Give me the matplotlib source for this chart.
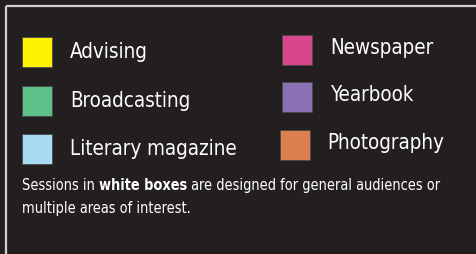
import matplotlib
matplotlib.use("Agg")
import matplotlib.pyplot as plt
from matplotlib.patches import Rectangle
from matplotlib import font_manager

categories_left = ["Advising", "Broadcasting", "Literary magazine"]
colors_left = ["#fff200", "#5fc08a", "#a8dcf5"]
categories_right = ["Newspaper", "Yearbook", "Photography"]
colors_right = ["#d9468c", "#8a72b4", "#dc8050"]
note_parts = ["Sessions in ", "white boxes", " are designed for general audiences or", "multiple areas of interest."]

avail = {f.name for f in font_manager.fontManager.ttflist}
fam = "Liberation Sans Narrow" if "Liberation Sans Narrow" in avail else "DejaVu Sans"
stretch = "normal" if fam == "Liberation Sans Narrow" else "condensed"

BG = "#231f20"
fig = plt.figure(figsize=(4.76, 2.55), dpi=100, facecolor=BG)
ax = fig.add_axes([0, 0, 1, 1])
ax.set_xlim(0, 476)
ax.set_ylim(255, 0)
ax.axis("off")
ax.set_facecolor(BG)

# border lines
ax.plot([6, 476], [7, 7], color="#cfcfcf", lw=1.6, solid_capstyle="butt")
ax.plot([6, 6], [7, 255], color="#cfcfcf", lw=1.6, solid_capstyle="butt")

LBL = 14.8
left_y = [38, 87, 135]
right_y = [36, 83, 131]
for cat, col, y in zip(categories_left, colors_left, left_y):
    ax.add_patch(Rectangle((22, y), 30, 30, facecolor=col, edgecolor="#4a4a4a", lw=0.6))
    ax.text(70, y + 14, cat, color="white", fontsize=LBL, family=fam, stretch=stretch,
            va="center", ha="left")
for i, (cat, col, y) in enumerate(zip(categories_right, colors_right, right_y)):
    x = 282 if i < 2 else 280
    tx = 330 if i < 2 else 327
    ax.add_patch(Rectangle((x, y), 30, 30, facecolor=col, edgecolor="#4a4a4a", lw=0.6))
    ax.text(tx, y + 12, cat, color="white", fontsize=LBL, family=fam, stretch=stretch,
            va="center", ha="left")

# note
NFS = 10.45
t1 = ax.text(22, 190, note_parts[0], color="white", fontsize=NFS, family=fam,
             stretch=stretch, va="baseline", ha="left")
fig.canvas.draw()
r = fig.canvas.get_renderer()
inv = ax.transData.inverted()
xd = inv.transform((t1.get_window_extent(r).x1, 0))[0]
t2 = ax.text(xd, 190, note_parts[1], color="white", fontsize=NFS, family=fam,
             stretch=stretch, weight="bold", va="baseline", ha="left")
fig.canvas.draw()
xd2 = inv.transform((t2.get_window_extent(r).x1, 0))[0]
ax.text(xd2, 190, note_parts[2], color="white", fontsize=NFS, family=fam,
        stretch=stretch, va="baseline", ha="left")
ax.text(22, 213, note_parts[3], color="white", fontsize=NFS, family=fam,
        stretch=stretch, va="baseline", ha="left")

fig.savefig("out.png", dpi=100, facecolor=BG)
